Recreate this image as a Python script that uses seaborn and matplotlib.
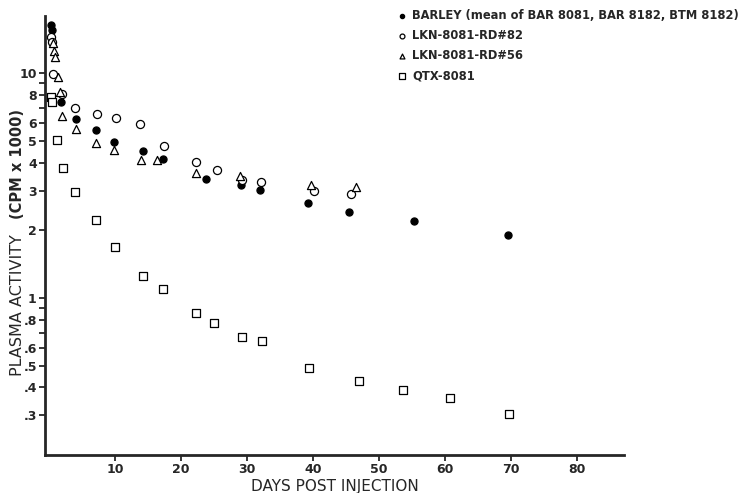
import numpy as np
import pandas as pd
import matplotlib
matplotlib.use("Agg")
import matplotlib.pyplot as plt
import seaborn as sns
from matplotlib.ticker import FixedLocator, NullFormatter

# Plasma activity (cpm x 1000) by days post injection
barley_days = [0.3, 0.4, 1.8, 4.1, 7.1, 9.9, 14.2, 17.2, 23.8, 29.1, 32.0, 39.2, 45.5, 55.3, 69.5]
barley_vals = [16.3, 15.6, 7.45, 6.23, 5.56, 4.94, 4.52, 4.15, 3.38, 3.18, 3.01, 2.64, 2.41, 2.19, 1.90]

rd82_days = [0.3, 0.5, 0.65, 2.0, 4.0, 7.2, 10.1, 13.8, 17.4, 22.3, 25.5, 29.3, 32.1, 40.2, 45.7]
rd82_vals = [14.5, 13.8, 9.9, 8.04, 7.01, 6.59, 6.33, 5.95, 4.75, 4.02, 3.72, 3.36, 3.27, 3.00, 2.89]

rd56_days = [0.6, 0.8, 0.9, 1.3, 1.7, 1.9, 4.1, 7.1, 9.9, 13.9, 16.4, 22.3, 28.9, 39.7, 46.5]
rd56_vals = [13.6, 12.5, 11.8, 9.57, 8.24, 6.46, 5.62, 4.90, 4.56, 4.10, 4.09, 3.59, 3.49, 3.17, 3.10]

qtx_days = [0.25, 0.5, 1.2, 2.1, 4.0, 7.1, 10.0, 14.3, 17.2, 22.2, 25.0, 29.2, 32.2, 39.4, 46.9, 53.6, 60.7, 69.7]
qtx_vals = [7.8, 7.45, 5.02, 3.77, 2.97, 2.22, 1.69, 1.25, 1.10, 0.86, 0.774, 0.671, 0.642, 0.490, 0.426, 0.389, 0.358, 0.306]

series_labels = [
    "BARLEY (mean of BAR 8081, BAR 8182, BTM 8182)",
    "LKN-8081-RD#82",
    "LKN-8081-RD#56",
    "QTX-8081",
]

x_ticks = [10, 20, 30, 40, 50, 60, 70, 80]
y_ticks = [0.3, 0.4, 0.5, 0.6, 0.8, 1, 2, 3, 4, 5, 6, 8, 10]
y_tick_labels = [".3", ".4", ".5", ".6", ".8", "1", "2", "3", "4", "5", "6", "8", "10"]
y_minor = [0.7, 0.9, 7, 9]

frames = []
for lab, d, v in zip(series_labels,
                     [barley_days, rd82_days, rd56_days, qtx_days],
                     [barley_vals, rd82_vals, rd56_vals, qtx_vals]):
    frames.append(pd.DataFrame({"day": d, "activity": v, "series": lab}))
df = pd.concat(frames, ignore_index=True)

sns.set_style("ticks")
plt.rcParams["font.family"] = ["DejaVu Sans"]

fig = plt.figure(figsize=(7.40, 4.93), dpi=100)
ax = fig.add_axes([0.061, 0.077, 0.782, 0.891])

styles = {
    series_labels[0]: dict(marker="o", facecolor="black", s=26),
    series_labels[1]: dict(marker="o", facecolor="white", s=34),
    series_labels[2]: dict(marker="^", facecolor="white", s=34),
    series_labels[3]: dict(marker="s", facecolor="white", s=38),
}
handles = []
for lab in series_labels:
    st = styles[lab]
    sub = df[df["series"] == lab]
    sns.scatterplot(data=sub, x="day", y="activity", ax=ax, marker=st["marker"],
                    s=st["s"], facecolor=st["facecolor"], edgecolor="black",
                    linewidth=0.9, legend=False, zorder=3)
    handles.append(ax.collections[-1])

ax.set_yscale("log")
ax.set_xlim(-0.6, 87.1)
ax.set_ylim(0.2, 18)

ax.xaxis.set_major_locator(FixedLocator(x_ticks))
ax.set_xticklabels([str(t) for t in x_ticks], fontsize=9, fontweight="bold")
ax.yaxis.set_major_locator(FixedLocator(y_ticks))
ax.yaxis.set_minor_locator(FixedLocator(y_minor))
ax.yaxis.set_minor_formatter(NullFormatter())
ax.set_yticklabels(y_tick_labels, fontsize=9, fontweight="bold")
ax.tick_params(axis="both", which="major", direction="out", length=4, width=1.3, pad=2)
ax.tick_params(axis="y", which="minor", direction="out", length=4, width=1.3)

for side in ["top", "right"]:
    ax.spines[side].set_visible(False)
for side in ["left", "bottom"]:
    ax.spines[side].set_linewidth(2.0)

ax.set_xlabel("DAYS POST INJECTION", fontsize=11, labelpad=2)
ax.set_ylabel("")
fig.text(0.023, 0.381, "PLASMA ACTIVITY", rotation=90, ha="center", va="center", fontsize=11.5)
fig.text(0.023, 0.668, "(CPM x 1000)", rotation=90, ha="center", va="center",
         fontsize=10.5, fontweight="bold")

leg = fig.legend(handles, series_labels, loc="upper left", bbox_to_anchor=(0.537, 0.982),
                 frameon=False, prop={"weight": "bold", "size": 8.3}, markerscale=0.6,
                 handlelength=0.8, handletextpad=0.5, labelspacing=0.62, borderpad=0,
                 borderaxespad=0)

fig.savefig("out.png", dpi=100)
